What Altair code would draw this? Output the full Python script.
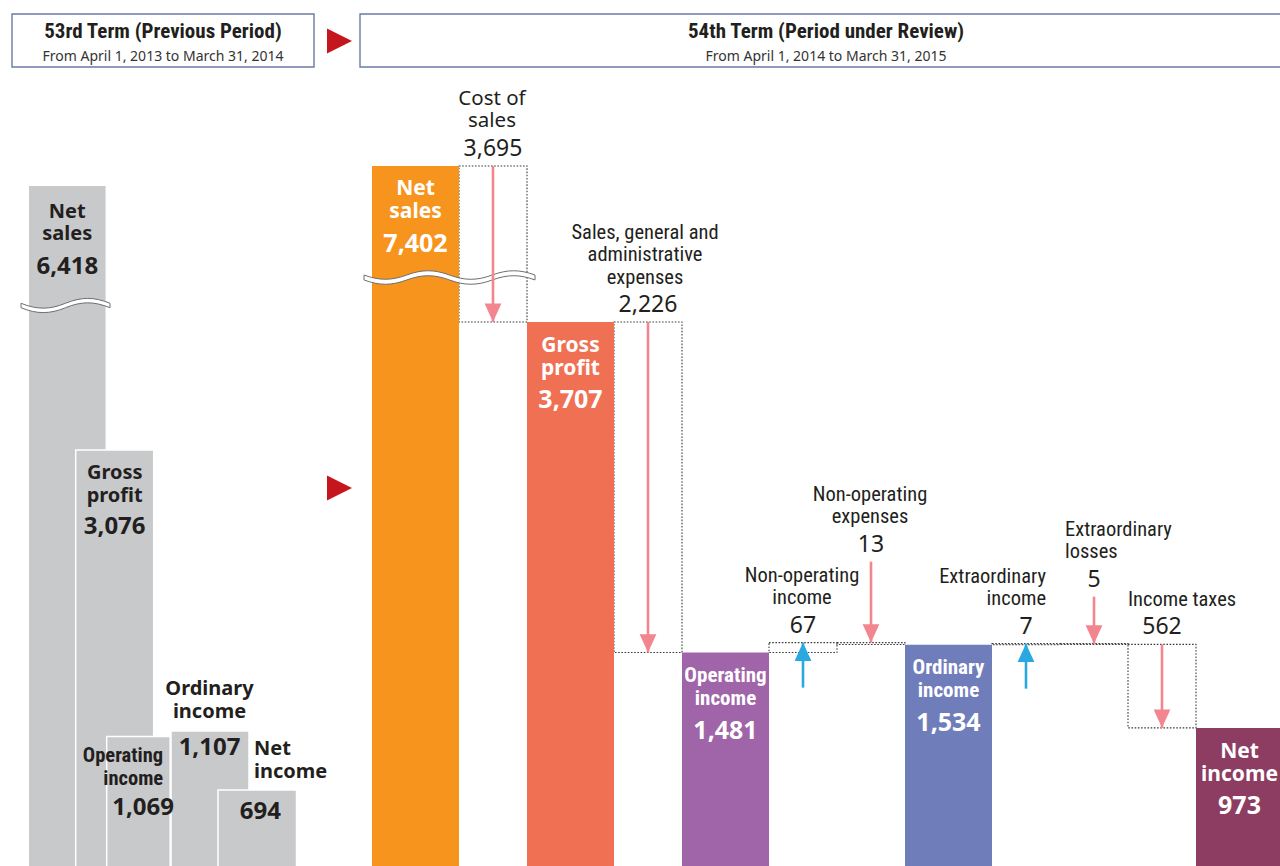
import altair as alt
import pandas as pd

# ---------------- chart values ----------------
header_titles = ["53rd Term (Previous Period)", "54th Term (Period under Review)"]
header_periods = ["From April 1, 2013 to March 31, 2014",
                  "From April 1, 2014 to March 31, 2015"]

prev_labels = ["Net\nsales", "Gross\nprofit", "Operating\nincome", "Ordinary\nincome", "Net\nincome"]
prev_values = [6418, 3076, 1069, 1107, 694]

cur_labels = ["Net\nsales", "Gross\nprofit", "Operating\nincome", "Ordinary\nincome", "Net\nincome"]
cur_values = [7402, 3707, 1481, 1534, 973]

step_labels = ["Cost of\nsales", "Sales, general and\nadministrative\nexpenses",
               "Non-operating\nincome", "Non-operating\nexpenses",
               "Extraordinary\nincome", "Extraordinary\nlosses", "Income taxes"]
step_values = [-3695, -2226, 67, -13, 7, -5, -562]

# waterfall order: subtotal bar (B) or change step (S)
flow = [("B", 0), ("S", 0), ("B", 1), ("S", 1), ("B", 2), ("S", 2), ("S", 3),
        ("B", 3), ("S", 4), ("S", 5), ("S", 6), ("B", 4)]

# ---------------- layout & style ----------------
W, H = 1280, 866
DARK = "#231f20"
GRAY = "#c8c9cb"
cur_colors = ["#f7941d", "#f07053", "#a064a9", "#707dbb", "#8c3d61"]
UP_COL, DOWN_COL = "#29a9e0", "#f3858e"
SANS = "Noto Sans"
NARROW = "Liberation Sans Narrow, Roboto Condensed, DejaVu Sans Condensed, sans-serif"

# pixel = base - k * value
R0, RK = 872.5, 0.1485
L0, LK = 889.0, 0.1427
R_CUT = 2644      # amount hidden by the break, current term
L_CUT = 1487      # amount hidden by the break, previous term

R_X0, BAR_W, STEP_W = 372, 87, 68
prev_x0 = [28.3, 75.7, 106.7, 171, 218]
prev_w = [78, 78, 63.5, 78, 78.5]
prev_off = [(26.4, 48.7, 81.4), (22.7, 45.7, 77.4), (19.5, 42.5, 72),
            (-42, -19, 17), (-41, -18, 21.7)]
prev_align = ["center", "center", "right", "center", "left"]
prev_dx = [0, 0, 24.7, -0.5, -3.3]
prev_ndx = [0, 0, 4.7, -0.5, 3.2]
prev_cond = [False, False, True, False, False]

cur_off = (23.5, 46.5, 78)
cur_cond = [False, False, True, True, False]

arrow_len_px = [None, None, 45, 81, 45, 47, None]
step_align = ["center", "center", "center", "center", "right", "left", "center"]
step_dx = [-1, -3, -1, -1, 20, -29, 20]
step_cond = [False, True, True, True, True, True, True]
NUM_OFF, LAST_OFF, LINE_GAP = 17, 44.5, 22.5

xs = alt.Scale(domain=[0, W], nice=False, zero=False)
ys_r = alt.Scale(domain=[(R0 - H) / RK, R0 / RK], nice=False, zero=False)
ys_l = alt.Scale(domain=[(L0 - H) / LK, L0 / LK], nice=False, zero=False)
ys_p = alt.Scale(domain=[H, 0], nice=False, zero=False)


def X(f):
    return alt.X(f"{f}:Q", scale=xs, axis=None)


def Y(f, s):
    return alt.Y(f"{f}:Q", scale=s, axis=None)


def trow(x, y, text, font, size, weight, align, color):
    return dict(x=x, y=y, text=text, font=font, size=size, weight=weight, align=align, color=color)


def text_layers(rows, yscale):
    df = pd.DataFrame(rows)
    out = []
    for (font, size, weight, align), g in df.groupby(["font", "size", "weight", "align"], sort=False):
        out.append(alt.Chart(g).mark_text(font=font, fontSize=float(size), fontWeight=weight,
                                          align=align, baseline="middle").encode(
            x=X("x"), y=Y("y", yscale), text="text:N",
            color=alt.Color("color:N", scale=None)))
    return out


def wave_path(a, t, n):
    """White band with a sine-like wavy outline (symbol path in [-1, 1] units)."""
    halves = 2 * n
    h = 2.0 / halves
    c = a * 1.33
    xk = [-1 + k * h for k in range(halves + 1)]
    p = [f"M -1 {-t:.4f}"]
    for k in range(halves):
        s = 1 if k % 2 == 0 else -1
        xa, xb = xk[k], xk[k + 1]
        p.append(f"C {xa + 0.36 * h:.4f} {-t + s * c:.4f} {xb - 0.36 * h:.4f} {-t + s * c:.4f} {xb:.4f} {-t:.4f}")
    p.append(f"L 1 {t:.4f}")
    for k in reversed(range(halves)):
        s = 1 if k % 2 == 0 else -1
        xa, xb = xk[k], xk[k + 1]
        p.append(f"C {xb - 0.36 * h:.4f} {t + s * c:.4f} {xa + 0.36 * h:.4f} {t + s * c:.4f} {xa:.4f} {t:.4f}")
    p.append("Z")
    return " ".join(p)


DOWN_HEAD = "M -2.1 -4.6 L 2.1 -4.6 L 0 0 Z"
UP_HEAD = "M -2.1 4.6 L 2.1 4.6 L 0 0 Z"
TRI_RIGHT = "M -1 -1 L 1 0 L -1 1 Z"

# ---------------- previous term (left) ----------------
def ldisp(v):
    return v - L_CUT if v >= prev_values[0] else v

bars_l, texts_l = [], []
for i, (lab, v) in enumerate(zip(prev_labels, prev_values)):
    x0, x1 = prev_x0[i], prev_x0[i] + prev_w[i]
    top = ldisp(v)
    bars_l.append(dict(x0=x0, x1=x1, base=0, top=top))
    xc = (x0 + x1) / 2
    font = NARROW if prev_cond[i] else SANS
    size = 20.5 if prev_cond[i] else 20
    for j, line in enumerate(lab.split("\n")):
        texts_l.append(trow(xc + prev_dx[i], top - prev_off[i][j] / LK, line, font, size, "bold",
                            prev_align[i], DARK))
    texts_l.append(trow(xc + prev_ndx[i], top - prev_off[i][2] / LK, f"{v:,}", SANS, 24, "bold",
                        "center", DARK))

wave_l = pd.DataFrame([dict(x=65.5, y=(L0 - 305.5) / LK)])

left_layers = [
    alt.Chart(pd.DataFrame(bars_l)).mark_rect(color=GRAY, stroke="white", strokeWidth=1.5).encode(
        x=X("x0"), x2="x1", y=Y("base", ys_l), y2="top"),
    alt.Chart(wave_l).mark_point(shape=wave_path(0.11, 0.05, 1), size=89 * 89, filled=True, fill="white",
                                 stroke="#6f6f6f", strokeWidth=1, opacity=1).encode(
        x=X("x"), y=Y("y", ys_l)),
] + text_layers(texts_l, ys_l)
left = alt.layer(*left_layers)

# ---------------- current term (right) ----------------
def rdisp(v):
    return v - R_CUT if v >= cur_values[0] else v

bars_r, boxes, arrows, texts_r = [], [], [], []
x = R_X0
level = None
for kind, i in flow:
    if kind == "B":
        v = cur_values[i]
        top = rdisp(v)
        bars_r.append(dict(x0=x, x1=x + BAR_W, base=0, top=top, color=cur_colors[i]))
        xc = x + BAR_W / 2
        font = NARROW if cur_cond[i] else SANS
        for j, line in enumerate(cur_labels[i].split("\n")):
            texts_r.append(trow(xc, top - cur_off[j] / RK, line, font, 21, "bold", "center", "white"))
        texts_r.append(trow(xc, top - cur_off[2] / RK, f"{v:,}", SANS, 25, "bold", "center", "white"))
        level = v
        x += BAR_W
    else:
        d = step_values[i]
        new = level + d
        lo, hi = rdisp(min(level, new)), rdisp(max(level, new))
        xc = x + STEP_W / 2
        boxes.append(dict(x0=x, x1=x + STEP_W, lo=lo, hi=hi))
        L = arrow_len_px[i]
        if d < 0:
            if L is None:
                tail, tip = hi, lo
            else:
                tip, tail = hi, hi + L / RK
            kind_a, col = "down", DOWN_COL
        else:
            tip, tail = hi, hi - L / RK
            kind_a, col = "up", UP_COL
        arrows.append(dict(x=xc, tail=tail, tip=tip, kind=kind_a, color=col))
        anchor = max(tail, tip)
        texts_r.append(trow(xc, anchor + NUM_OFF / RK, f"{abs(d):,}", SANS, 23, "normal", "center", DARK))
        lines = step_labels[i].split("\n")
        font = NARROW if step_cond[i] else SANS
        for j, line in enumerate(reversed(lines)):
            texts_r.append(trow(xc + step_dx[i], anchor + (LAST_OFF + j * LINE_GAP) / RK, line, font, 20.5,
                                "normal", step_align[i], DARK))
        level = new
        x += STEP_W

arr = pd.DataFrame(arrows)
wave_r = pd.DataFrame([dict(x=449.5, y=(R0 - 277.5) / RK)])

right_layers = [
    alt.Chart(pd.DataFrame(boxes)).mark_rect(fillOpacity=0, stroke="#3c3c3c", strokeWidth=1.1,
                                             strokeDash=[1.6, 1.6]).encode(
        x=X("x0"), x2="x1", y=Y("lo", ys_r), y2="hi"),
    alt.Chart(pd.DataFrame(bars_r)).mark_rect().encode(
        x=X("x0"), x2="x1", y=Y("base", ys_r), y2="top", color=alt.Color("color:N", scale=None)),
    alt.Chart(wave_r).mark_point(shape=wave_path(0.05, 0.029, 2), size=171 * 171, filled=True, fill="white",
                                 stroke="#6f6f6f", strokeWidth=1, opacity=1).encode(
        x=X("x"), y=Y("y", ys_r)),
    alt.Chart(arr).mark_rule(strokeWidth=2.6).encode(
        x=X("x"), y=Y("tail", ys_r), y2="tip", color=alt.Color("color:N", scale=None)),
    alt.Chart(arr[arr.kind == "down"]).mark_point(shape=DOWN_HEAD, size=64, filled=True, opacity=1,
                                                  strokeWidth=0).encode(
        x=X("x"), y=Y("tip", ys_r), color=alt.Color("color:N", scale=None)),
    alt.Chart(arr[arr.kind == "up"]).mark_point(shape=UP_HEAD, size=64, filled=True, opacity=1,
                                                strokeWidth=0).encode(
        x=X("x"), y=Y("tip", ys_r), color=alt.Color("color:N", scale=None)),
] + text_layers(texts_r, ys_r)
right = alt.layer(*right_layers)

# ---------------- headers & markers ----------------
hdr = pd.DataFrame({"title": header_titles, "period": header_periods,
                    "x0": [12, 360], "x1": [314, 1292], "y0": [14, 14], "y1": [67, 67]})
hdr["xc"] = (hdr.x0 + hdr.x1) / 2
hdr["ty"] = 32
hdr["py"] = 57
tri = pd.DataFrame({"x": [339.5, 339.5], "y": [41, 488]})

ann = alt.layer(
    alt.Chart(hdr).mark_rect(fillOpacity=0, stroke="#6a7ba5", strokeWidth=1.4).encode(
        x=X("x0"), x2="x1", y=Y("y0", ys_p), y2="y1"),
    alt.Chart(hdr).mark_text(font=NARROW, fontSize=21, fontWeight="bold", color=DARK,
                             baseline="middle").encode(x=X("xc"), y=Y("ty", ys_p), text="title:N"),
    alt.Chart(hdr).mark_text(font=SANS, fontSize=14, color="#333333",
                             baseline="middle").encode(x=X("xc"), y=Y("py", ys_p), text="period:N"),
    alt.Chart(tri).mark_point(shape=TRI_RIGHT, size=625, filled=True, color="#c5161d", opacity=1,
                              strokeWidth=0).encode(x=X("x"), y=Y("y", ys_p)),
)

chart = alt.layer(left, right, ann).resolve_scale(y="independent").properties(
    width=W, height=H, padding=0, autosize=alt.AutoSizeParams(type="none"),
    background="white",
).configure_view(strokeWidth=0)

chart.save("out.html", embed_options={"renderer": "svg", "actions": False})
